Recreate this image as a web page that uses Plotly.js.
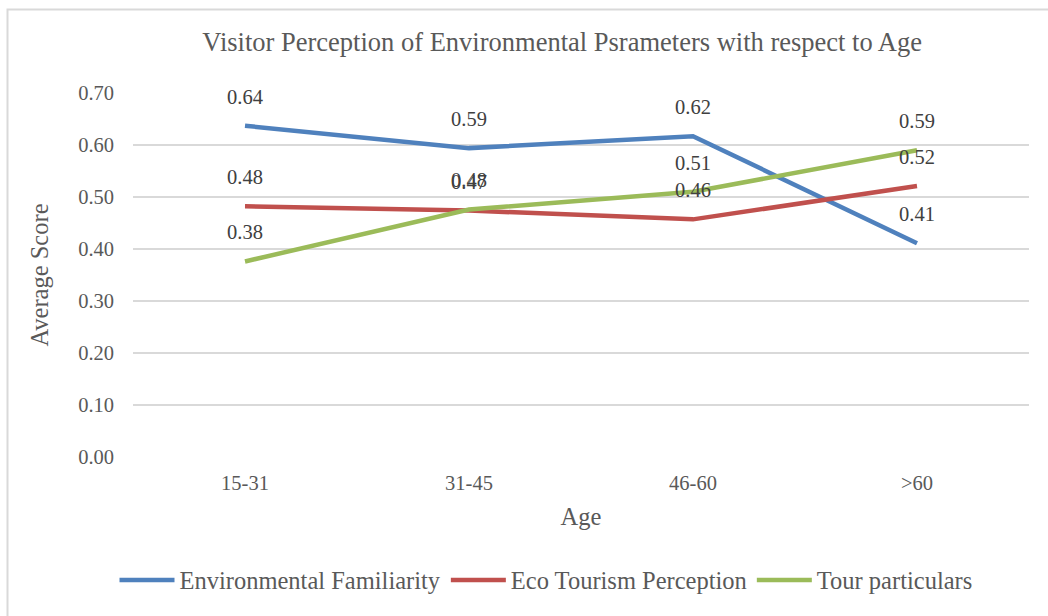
<!DOCTYPE html>
<html>
<head>
<meta charset="utf-8">
<script src="https://cdn.plot.ly/plotly-3.0.1.min.js"></script>
<style>html,body{margin:0;padding:0;background:#fff;}#chart{width:1048px;height:616px;}</style>
</head>
<body>
<div id="chart"></div>
<script>
const categories = ["15-31", "31-45", "46-60", ">60"];
const seriesNames = ["Environmental Familiarity", "Eco Tourism Perception", "Tour particulars"];
const envFamiliarity = [0.637, 0.594, 0.617, 0.411];
const ecoTourism = [0.482, 0.474, 0.457, 0.521];
const tourParticulars = [0.376, 0.476, 0.510, 0.590];
const yTickValues = [0, 0.1, 0.2, 0.3, 0.4, 0.5, 0.6, 0.7];

const colors = ["#4F81BD", "#C0504D", "#9BBB59"];
const allSeries = [envFamiliarity, ecoTourism, tourParticulars];
const textColor = "#595959";
const serif = "'Liberation Serif', 'Times New Roman', serif";

const traces = allSeries.map((vals, i) => ({
  type: "scatter",
  mode: "lines",
  x: categories,
  y: vals,
  name: seriesNames[i],
  line: {color: colors[i], width: 4.5},
  hoverinfo: "skip"
}));

const annotations = [];
allSeries.forEach((vals) => {
  vals.forEach((v, j) => {
    annotations.push({
      x: categories[j], y: v, xref: "x", yref: "y",
      text: v.toFixed(2), showarrow: false,
      yshift: 29, font: {family: serif, size: 20.5, color: "#404040"}
    });
  });
});

const layout = {
  width: 1048, height: 616,
  paper_bgcolor: "#fff", plot_bgcolor: "#fff",
  margin: {l: 133, r: 19, t: 93, b: 159},
  font: {family: serif, color: textColor, size: 20},
  title: {
    text: "Visitor Perception of Environmental Psrameters with respect to Age",
    font: {family: serif, size: 26.5, color: textColor},
    xref: "paper", x: 0.479, xanchor: "center",
    yref: "container", y: 1 - 42/616, yanchor: "middle"
  },
  xaxis: {
    type: "category",
    range: [-0.5, 3.5],
    automargin: false,
    showgrid: false, zeroline: false, showline: false,
    ticks: "", ticklabelstandoff: 11,
    tickfont: {family: serif, size: 20.5, color: textColor},
    title: {text: "Age", font: {family: serif, size: 24.5, color: textColor}, standoff: 15}
  },
  yaxis: {
    range: [0, 0.7],
    automargin: false,
    tickvals: yTickValues,
    tickformat: ".2f",
    showgrid: true, gridcolor: "#D9D9D9", gridwidth: 1.5,
    zeroline: false, showline: false, ticks: "",
    ticklabelstandoff: 18,
    tickfont: {family: serif, size: 20.5, color: textColor},
    title: {text: "Average Score", font: {family: serif, size: 24.5, color: textColor}, standoff: 22}
  },
  showlegend: true,
  legend: {
    orientation: "h",
    xref: "container", yref: "container",
    x: 546 / 1048, xanchor: "center",
    y: 1 - 580/616, yanchor: "middle",
    font: {family: serif, size: 24.5, color: textColor},
    itemwidth: 55,
    traceorder: "normal"
  },
  annotations: annotations,
  shapes: [{
    type: "rect", xref: "paper", yref: "paper",
    x0: (7.5 - 133) / 896, x1: 1.2,
    y0: -0.6, y1: 1 + (93 - 9.5) / 364,
    line: {color: "#D9D9D9", width: 2}, layer: "below"
  }]
};

Plotly.newPlot("chart", traces, layout, {displayModeBar: false, staticPlot: true});
</script>
</body>
</html>
